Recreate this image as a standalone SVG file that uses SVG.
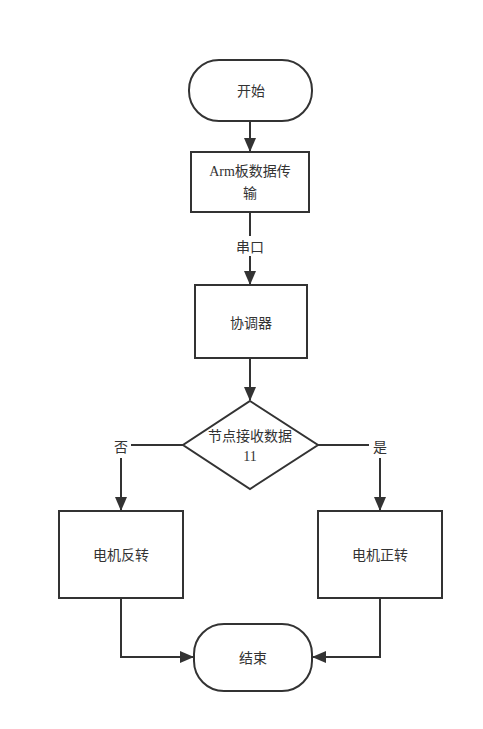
<svg xmlns="http://www.w3.org/2000/svg" width="483" height="729" viewBox="0 0 483 729">
<defs>
<marker id="ah" markerWidth="14" markerHeight="12" refX="13" refY="6" orient="auto" markerUnits="userSpaceOnUse" viewBox="0 0 14 12">
<path d="M0,0 L14,6 L0,12 z" fill="#333"/>
</marker>
<style>
.s{fill:#fff;stroke:#333;stroke-width:2}
.c{fill:none;stroke:#333;stroke-width:2}
.t{font-family:"Noto Sans CJK SC","Liberation Sans",sans-serif;font-size:14px;fill:#333;text-anchor:middle;dominant-baseline:central}
.m{font-family:"Liberation Serif","Noto Sans CJK SC",serif}
</style>
</defs>
<rect width="483" height="729" fill="#fff"/>
<g id="connectors">
<path class="c" d="M250,121 V151" marker-end="url(#ah)"/>
<path class="c" d="M250,212 V236"/>
<path class="c" d="M250,256 V284" marker-end="url(#ah)"/>
<path class="c" d="M250,358 V400" marker-end="url(#ah)"/>
<path class="c" d="M183,445 H131"/>
<path class="c" d="M121,458 V510" marker-end="url(#ah)"/>
<path class="c" d="M318,445 H369"/>
<path class="c" d="M380,458 V510" marker-end="url(#ah)"/>
<path class="c" d="M121,598 V657 H193" marker-end="url(#ah)"/>
<path class="c" d="M380,598 V657 H313" marker-end="url(#ah)"/>
<text class="t" x="250" y="246">串口</text>
<text class="t" x="121" y="446">否</text>
<text class="t" x="380" y="446">是</text>
</g>
<g id="start">
<rect class="s" x="189" y="60" width="123" height="61" rx="30" ry="30"/>
<text class="t" x="251" y="90">开始</text>
</g>
<g id="arm">
<rect class="s" x="191" y="152" width="118" height="60"/>
<text class="t m" x="250" y="171">Arm板数据传</text>
<text class="t m" x="250" y="193">输</text>
</g>
<g id="coord">
<rect class="s" x="195" y="285" width="112" height="73"/>
<text class="t" x="251" y="322">协调器</text>
</g>
<g id="decision">
<polygon class="s" points="250,401 318,445 250,489 183,445"/>
<text class="t" x="250" y="435">节点接收数据</text>
<text class="t m" x="250" y="456">11</text>
</g>
<g id="reverse">
<rect class="s" x="59" y="511" width="124" height="87"/>
<text class="t" x="121" y="554">电机反转</text>
</g>
<g id="forward">
<rect class="s" x="318" y="511" width="124" height="87"/>
<text class="t" x="380" y="554">电机正转</text>
</g>
<g id="end">
<rect class="s" x="194" y="624" width="118" height="67" rx="30" ry="30"/>
<text class="t" x="253" y="657">结束</text>
</g>
</svg>
